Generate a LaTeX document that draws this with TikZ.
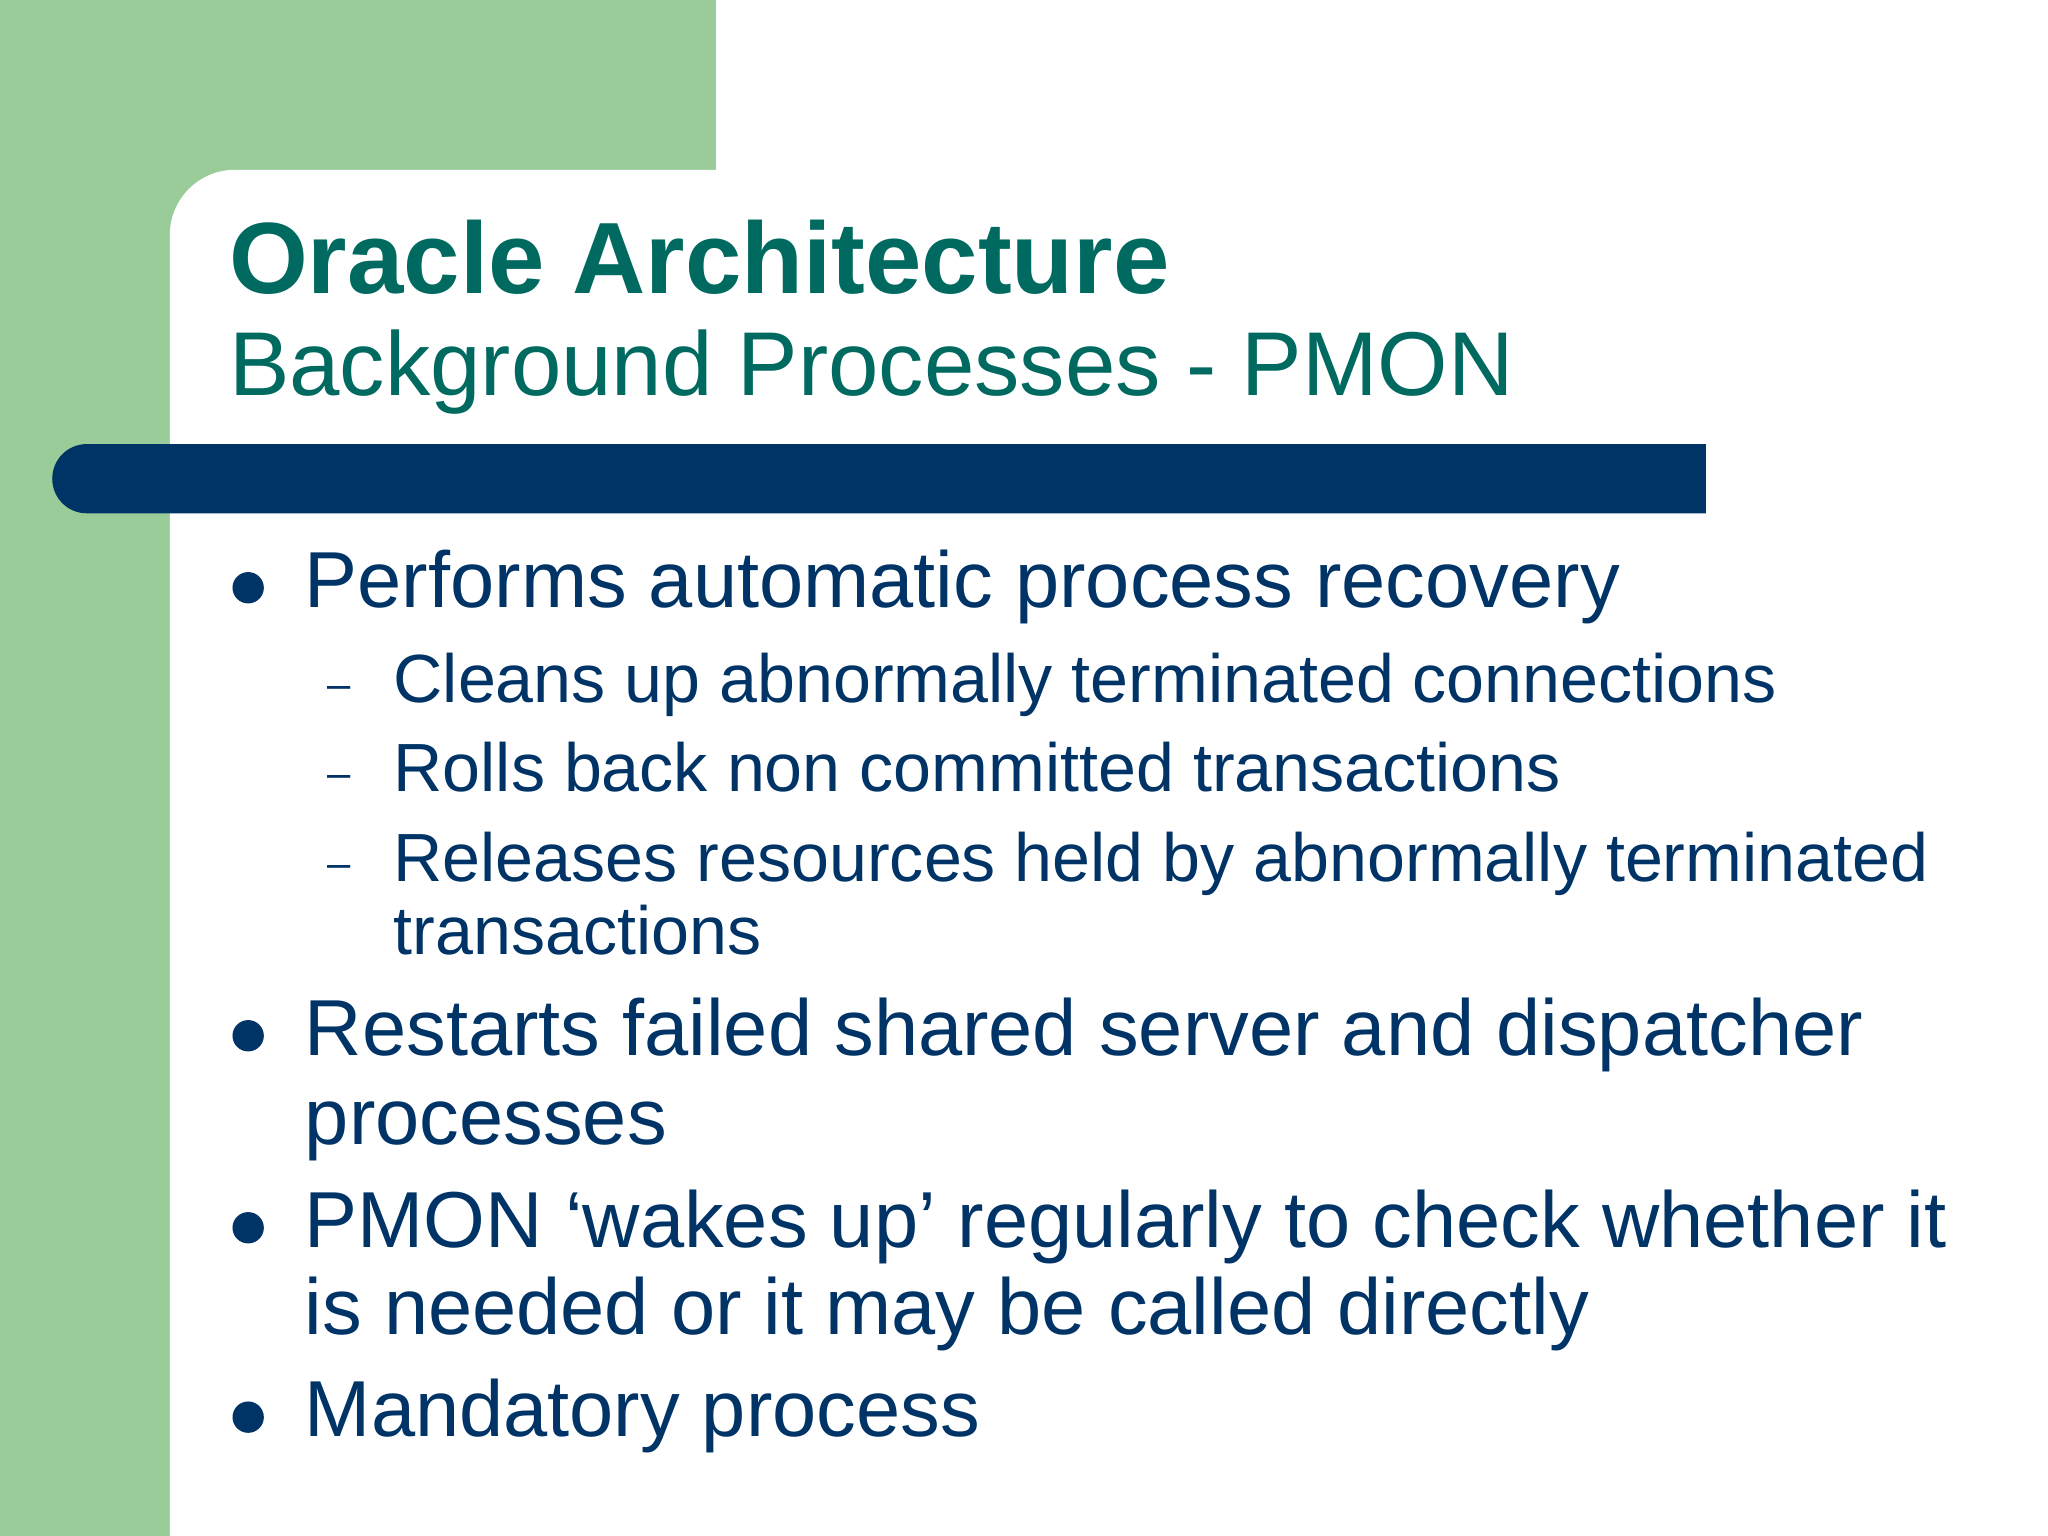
\documentclass[tikz,border=0pt]{standalone}
\usepackage{fontspec}
\setmainfont{Liberation Sans}
\definecolor{pgreen}{HTML}{99CC99}
\definecolor{navy}{HTML}{003366}
\definecolor{teal2}{HTML}{006A60}
\begin{document}
\begin{tikzpicture}[x=0.5pt,y=-0.5pt,
  txt/.style={anchor=base west,inner sep=0pt,text=navy},
  big/.style={txt,font=\fontsize{30.4}{32}\selectfont},
  small/.style={txt,font=\fontsize{26.1}{28}\selectfont},
  dash2/.style={txt,font=\fontsize{16}{18}\selectfont},
  dot/.style={circle,fill=navy,inner sep=0pt,minimum size=12pt}]
\useasboundingbox (0,0) rectangle (1568,1176);
\fill[pgreen] (0,0) rectangle (548,1176);
\fill[white] (130,1176) [rounded corners=25pt] -- (130,130) [sharp corners] -- (1568,130) -- (1568,1176) -- cycle;
\fill[navy] (1306,340) [rounded corners=13.2pt] -- (40,340) -- (40,393) [sharp corners] -- (1306,393) -- cycle;
\node[anchor=base west,inner sep=0pt,text=teal2,font=\fontsize{38.8}{40}\selectfont\bfseries] (t1) at (175,225) {Oracle Architecture};
\node[anchor=base west,inner sep=0pt,text=teal2,font=\fontsize{34.7}{36}\selectfont] (t2) at (175,303) {Background Processes - PMON};
\node[dot] (d1) at (190,450) {};
\node[big] (b1) at (233,465) {Performs automatic process recovery};
\node[dash2] (s1d) at (250,535) {–};
\node[small] (s1) at (301,538) {Cleans up abnormally terminated connections};
\node[dash2] (s2d) at (250,603) {–};
\node[small] (s2) at (301,606) {Rolls back non committed transactions};
\node[dash2] (s3d) at (250,672) {–};
\node[small] (s3) at (301,675) {Releases resources held by abnormally terminated};
\node[small] (s3b) at (301,731) {transactions};
\node[dot] (d2) at (190,793) {};
\node[big] (b2) at (233,808) {Restarts failed shared server and dispatcher};
\node[big] (b2b) at (233,876) {processes};
\node[dot] (d3) at (190,940) {};
\node[big] (b3) at (233,955) {PMON ‘wakes up’ regularly to check whether it};
\node[big] (b3b) at (233,1022) {is needed or it may be called directly};
\node[dot] (d4) at (190,1085) {};
\node[big] (b4) at (233,1100) {Mandatory process};
\end{tikzpicture}
\end{document}
